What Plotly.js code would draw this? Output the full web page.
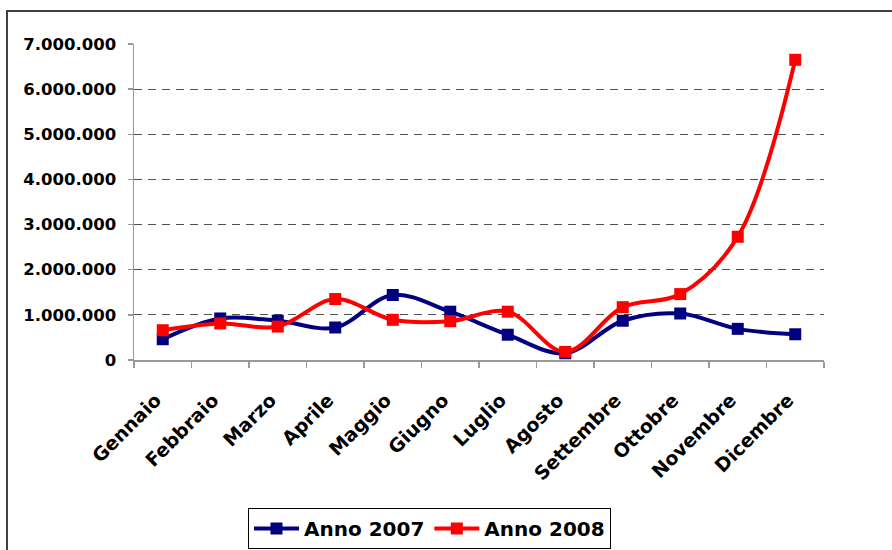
<!DOCTYPE html>
<html>
<head>
<meta charset="utf-8">
<script src="https://cdn.plot.ly/plotly-3.0.1.min.js"></script>
<style>
  html, body { margin: 0; padding: 0; background: #fff; }
  #chart { width: 892px; height: 550px; }
</style>
</head>
<body>
<div id="chart"></div>
<script>
const months = ["Gennaio", "Febbraio", "Marzo", "Aprile", "Maggio", "Giugno", "Luglio", "Agosto", "Settembre", "Ottobre", "Novembre", "Dicembre"];
const anno2007 = [460000, 920000, 870000, 720000, 1440000, 1070000, 560000, 150000, 870000, 1030000, 690000, 570000];
const anno2008 = [660000, 810000, 740000, 1350000, 890000, 860000, 1070000, 180000, 1170000, 1460000, 2730000, 6650000];
const yTicks = [0, 1000000, 2000000, 3000000, 4000000, 5000000, 6000000, 7000000];

const FONT = "DejaVu Sans, Verdana, sans-serif";
const W = 892, H = 550;
const L = 134, R = 68, T = 44, B = 190;
const pw = W - L - R, ph = H - T - B;
function px2x(p) { return (p - L) / pw; }
function px2y(p) { return (H - B - p) / ph; }

const traces = [
  {
    x: months, y: anno2007, name: "Anno 2007", type: "scatter", mode: "lines+markers",
    line: { color: "#000080", width: 4, shape: "spline", smoothing: 1 },
    marker: { symbol: "square", size: 12, color: "#000080" }
  },
  {
    x: months, y: anno2008, name: "Anno 2008", type: "scatter", mode: "lines+markers",
    line: { color: "#FF0000", width: 4, shape: "spline", smoothing: 1 },
    marker: { symbol: "square", size: 12, color: "#FF0000" }
  }
];

const layout = {
  width: W, height: H,
  margin: { l: L, r: R, t: T, b: B, pad: 0, autoexpand: false },
  paper_bgcolor: "#fff", plot_bgcolor: "#fff",
  separators: ",.",
  font: { family: FONT, color: "#000" },
  showlegend: true,
  xaxis: {
    type: "category",
    range: [-0.5, months.length - 0.5],
    automargin: false,
    tickangle: -45,
    tickfont: { family: FONT, size: 19, color: "#000", weight: "bold" },
    showgrid: false,
    showline: true, linecolor: "#999", linewidth: 1.5,
    ticks: "outside", ticklen: 6, tickcolor: "#999", tickwidth: 1.5,
    tickson: "boundaries",
    ticklabelstandoff: 20,
    ticklabelshift: -7,
    zeroline: false
  },
  yaxis: {
    automargin: false,
    range: [0, 7000000],
    tickvals: yTicks,
    tickformat: ",d",
    tickfont: { family: FONT, size: 16.5, color: "#000", weight: "bold" },
    showgrid: true, gridcolor: "#505050", gridwidth: 1, griddash: "8px,6px",
    showline: true, linecolor: "#999", linewidth: 1.5,
    ticks: "outside", ticklen: 5, tickcolor: "#999", tickwidth: 1.5,
    ticklabelstandoff: 8,
    zeroline: false
  },
  legend: {
    orientation: "h",
    x: px2x(429.5), xanchor: "center",
    y: px2y(508), yanchor: "top",
    bgcolor: "#fff", bordercolor: "#000", borderwidth: 1,
    font: { family: FONT, size: 20, color: "#000", weight: "bold" },
    itemwidth: 45,
    traceorder: "normal"
  },
  shapes: [
    {
      type: "rect", xref: "paper", yref: "paper", layer: "below",
      x0: px2x(7), x1: px2x(960), y0: px2y(620), y1: px2y(11),
      line: { color: "#404040", width: 2 }, fillcolor: "rgba(0,0,0,0)"
    }
  ]
};

Plotly.newPlot("chart", traces, layout, { displayModeBar: false, staticPlot: true });
</script>
</body>
</html>
